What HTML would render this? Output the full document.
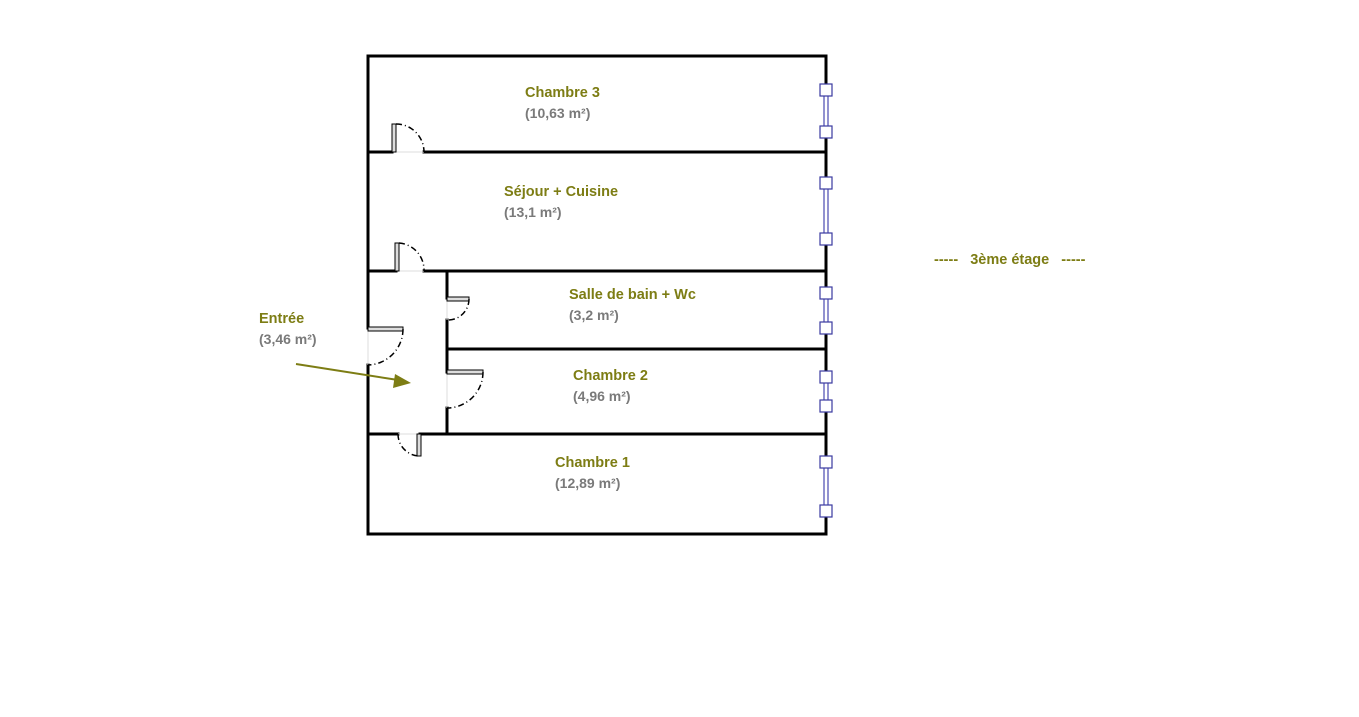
<!DOCTYPE html>
<html><head><meta charset="utf-8"><style>
html,body{margin:0;padding:0;background:#fff;width:1359px;height:717px;overflow:hidden}
svg{position:absolute;left:0;top:0}
.t{font-family:"Liberation Sans",sans-serif;font-size:14.5px;font-weight:bold;fill:#7d7d14}
.a{font-family:"Liberation Sans",sans-serif;font-size:14px;font-weight:bold;fill:#7a7a7a}
</style></head><body>
<svg width="1359" height="717" viewBox="0 0 1359 717">
<g stroke="#000" stroke-width="3" fill="none" stroke-linecap="square">
<path d="M368 56 H826 V534 H368 V365"/>
<path d="M368 328 V56"/>
<path d="M368 152 H392 M424 152 H826"/>
<path d="M368 271 H396 M424 271 H826"/>
<path d="M447 349 H826"/>
<path d="M368 434 H398 M420 434 H826"/>
<path d="M447 271 V298 M447 320 V372 M447 408 V434"/>
</g>
<g stroke="#ddd" stroke-width="1">
<path d="M392 152H424 M396 271H424 M398 434H420 M447 298V320 M447 372V408 M368 328V365"/>
</g>
<g stroke="#000" stroke-width="1" fill="#ddd">
<rect x="392" y="124" width="4" height="28"/>
<rect x="395" y="243" width="4" height="28"/>
<rect x="447" y="297" width="22" height="4"/>
<rect x="447" y="370" width="36" height="4"/>
<rect x="368" y="327" width="35" height="4"/>
<rect x="417" y="434" width="4" height="22"/>
</g>
<g stroke="#000" stroke-width="1.5" fill="none" stroke-dasharray="6,3,1,3">
<path d="M396 124 A28 28 0 0 1 424 152"/>
<path d="M399 243 A27 27 0 0 1 424 271"/>
<path d="M469 299 A21 21 0 0 1 447 320"/>
<path d="M483 372 A36 36 0 0 1 447 408"/>
<path d="M403 329 A36 36 0 0 1 368 365"/>
<path d="M398 434 A22 22 0 0 0 419 456"/>
</g>
<g fill="#fff">
<rect x="823" y="96" width="6" height="30"/><rect x="823" y="189" width="6" height="44"/>
<rect x="823" y="299" width="6" height="23"/><rect x="823" y="383" width="6" height="17"/>
<rect x="823" y="468" width="6" height="37"/>
</g>
<g stroke="#4a4ab0" stroke-width="1.2" fill="none">
<path d="M824 96V126 M828 96V126 M824 189V233 M828 189V233 M824 299V323 M828 299V323 M824 383V401 M828 383V401 M824 468V506 M828 468V506"/>
</g>
<g stroke="#3a3aa0" stroke-width="1.2" fill="#fff">
<rect x="820" y="84" width="12" height="12"/><rect x="820" y="126" width="12" height="12"/>
<rect x="820" y="177" width="12" height="12"/><rect x="820" y="233" width="12" height="12"/>
<rect x="820" y="287" width="12" height="12"/><rect x="820" y="322" width="12" height="12"/>
<rect x="820" y="371" width="12" height="12"/><rect x="820" y="400" width="12" height="12"/>
<rect x="820" y="456" width="12" height="12"/><rect x="820" y="505" width="12" height="12"/>
</g>
<line x1="296" y1="364" x2="398" y2="380" stroke="#7d7d14" stroke-width="2"/>
<polygon points="411,383 395,374 393,388" fill="#7d7d14"/>
<text class="t" x="525" y="97">Chambre 3</text><text class="a" x="525" y="118">(10,63 m²)</text>
<text class="t" x="504" y="196">Séjour + Cuisine</text><text class="a" x="504" y="217">(13,1 m²)</text>
<text class="t" x="569" y="299">Salle de bain + Wc</text><text class="a" x="569" y="320">(3,2 m²)</text>
<text class="t" x="573" y="380">Chambre 2</text><text class="a" x="573" y="401">(4,96 m²)</text>
<text class="t" x="555" y="467">Chambre 1</text><text class="a" x="555" y="488">(12,89 m²)</text>
<text class="t" x="259" y="323">Entrée</text><text class="a" x="259" y="344">(3,46 m²)</text>
<text class="t" x="934" y="264" xml:space="preserve">-----   3ème étage   -----</text>
</svg>
</body></html>
